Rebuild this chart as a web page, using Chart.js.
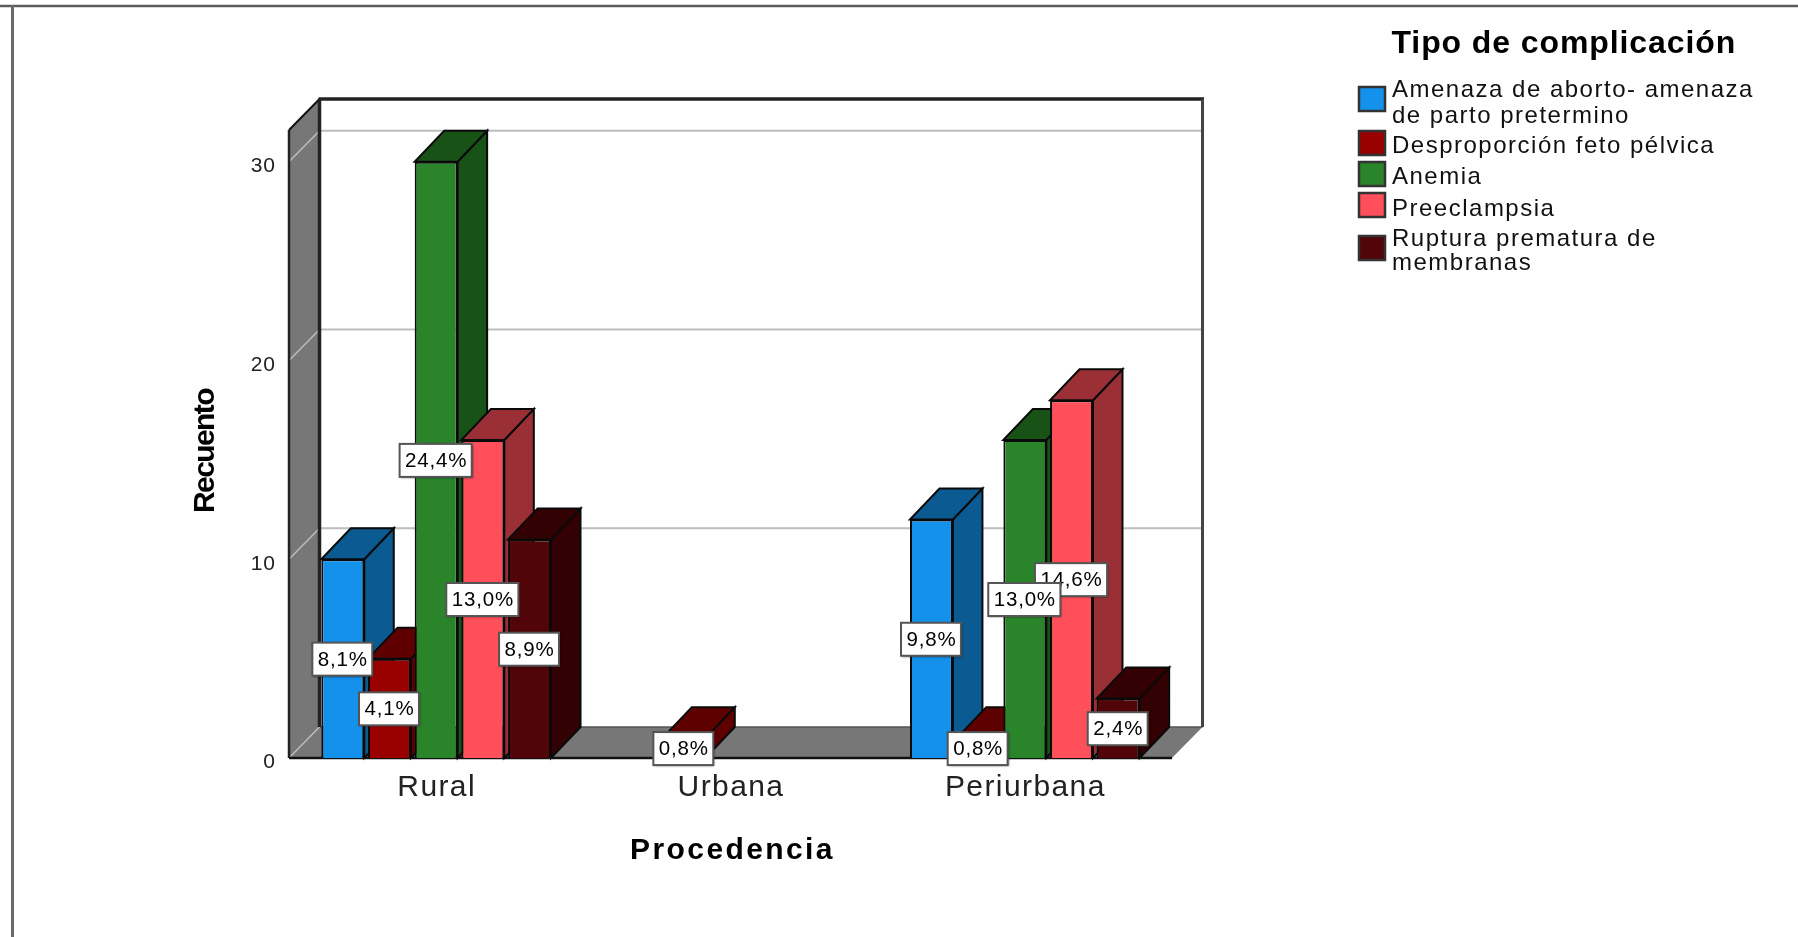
<!DOCTYPE html>
<html>
<head>
<meta charset="utf-8">
<title>Procedencia</title>
<script src="https://cdn.jsdelivr.net/npm/chart.js@4/dist/chart.umd.min.js"></script>
<style>
html,body{margin:0;padding:0;background:#fff;overflow:hidden}
#wrap{position:relative;width:1798px;height:937px}
canvas{display:block;filter:blur(0.6px)}
</style>
</head>
<body>
<div id="wrap"><canvas id="c" width="1798" height="937"></canvas></div>
<script>
const categories = ['Rural', 'Urbana', 'Periurbana'];
const seriesNames = ['Amenaza de aborto- amenaza de parto pretermino', 'Desproporción feto pélvica', 'Anemia', 'Preeclampsia', 'Ruptura prematura de membranas'];
const amenaza = [10, null, 12];
const desproporcion = [5, 1, 1];
const anemia = [30, null, 16];
const preeclampsia = [16, null, 18];
const ruptura = [11, null, 3];
const amenazaPct = ['8,1%', null, '9,8%'];
const desproporcionPct = ['4,1%', '0,8%', '0,8%'];
const anemiaPct = ['24,4%', null, '13,0%'];
const preeclampsiaPct = ['13,0%', null, '14,6%'];
const rupturaPct = ['8,9%', null, '2,4%'];
const yTicks = [0, 10, 20, 30];
const yMax = 31.6;
const frontColors = ['#1491EB', '#990000', '#2A852A', '#FF4F5A', '#520508'];
const sideColors = ['#0B5A92', '#5E0000', '#195217', '#9A3035', '#330003'];
const legendLines = [['Amenaza de aborto- amenaza', 'de parto pretermino'], ['Desproporción feto pélvica'], ['Anemia'], ['Preeclampsia'], ['Ruptura prematura de', 'membranas']];
const legendBoxY = [87, 131, 162, 193, 236];
const legendBaselines = [[97, 123], [153], [184], [216], [246, 270]];

const allValues = [amenaza, desproporcion, anemia, preeclampsia, ruptura];
const allPct = [amenazaPct, desproporcionPct, anemiaPct, preeclampsiaPct, rupturaPct];
const FF = '"Liberation Sans", Arial, sans-serif';
const DX = 30.5, DY = 31, BAR_DX = 29.5;

function poly(ctx, pts, fill, stroke, lw) {
  ctx.beginPath();
  pts.forEach((p, i) => i ? ctx.lineTo(p[0], p[1]) : ctx.moveTo(p[0], p[1]));
  ctx.closePath();
  if (fill) { ctx.fillStyle = fill; ctx.fill(); }
  if (stroke) { ctx.strokeStyle = stroke; ctx.lineWidth = lw || 1; ctx.stroke(); }
}
function seg(ctx, x1, y1, x2, y2, c, lw) {
  ctx.beginPath(); ctx.moveTo(x1, y1); ctx.lineTo(x2, y2);
  ctx.strokeStyle = c; ctx.lineWidth = lw; ctx.stroke();
}

const patchScales = {
  id: 'patchScales',
  afterLayout(chart) {
    if (chart.$patched) return;
    chart.$patched = true;
    const ctx = chart.ctx;
    const wrap = (scale, method, spacing, dx, dy) => {
      const orig = scale[method];
      scale[method] = function (...a) {
        ctx.save();
        ctx.letterSpacing = spacing;
        ctx.translate(dx, dy);
        orig.apply(this, a);
        ctx.restore();
      };
    };
    wrap(chart.scales.x, 'drawLabels', '1.4px', 0.5, 0);
    wrap(chart.scales.x, 'drawTitle', '2.4px', 2, 2);
    wrap(chart.scales.y, 'drawLabels', '1px', 0, 0);
    wrap(chart.scales.y, 'drawTitle', '-1.6px', 0, 7);
  }
};

const stage3d = {
  id: 'stage3d',
  beforeDraw(chart) {
    const ctx = chart.ctx;
    ctx.save();
    seg(ctx, 0, 6, 1798, 6, '#5c5c5c', 2.5);
    seg(ctx, 12.5, 5, 12.5, 937, '#6a6a6a', 3);
    ctx.restore();
  },
  beforeDatasetsDraw(chart) {
    const ctx = chart.ctx;
    const { left, right, top, bottom } = chart.chartArea;
    const y = chart.scales.y;
    ctx.save();
    yTicks.forEach(v => {
      const p = y.getPixelForValue(v);
      if (v > 0) seg(ctx, left + DX, p - DY, right + DX, p - DY, '#bdbdbd', 2);
    });
    poly(ctx, [[left, bottom], [left + DX, bottom - DY], [right + DX, bottom - DY], [right, bottom]], '#777777');
    seg(ctx, left + DX, bottom - DY, right + DX, bottom - DY, '#555', 1.5);
    poly(ctx, [[left, top], [left + DX, top - DY], [left + DX, bottom - DY], [left, bottom]], '#777777');
    yTicks.forEach(v => {
      const p = y.getPixelForValue(v);
      seg(ctx, left, p, left + DX, p - DY, '#bdbdbd', 1.5);
    });
    seg(ctx, left, bottom, left, top, '#222', 2.5);
    seg(ctx, left, top, left + DX, top - DY, '#111', 2);
    seg(ctx, left + DX, bottom - DY, left + DX, top - DY, '#222', 3.5);
    seg(ctx, left + DX - 1, top - DY, right + DX + 1.5, top - DY, '#222', 3.5);
    seg(ctx, right + DX, top - DY, right + DX, bottom - DY, '#444', 3);
    seg(ctx, left, bottom, right, bottom, '#111', 2.5);
    allValues.forEach((vals, ds) => {
      chart.getDatasetMeta(ds).data.forEach((bar, j) => {
        if (vals[j] == null) return;
        const l = bar.x - bar.width / 2, r = bar.x + bar.width / 2, t = bar.y, b = bar.base;
        const c = sideColors[ds];
        poly(ctx, [[r, t], [r + BAR_DX, t - DY], [r + BAR_DX, b - DY], [r, b]], c, '#0a0a0a', 2);
        poly(ctx, [[l, t], [l + BAR_DX, t - DY], [r + BAR_DX, t - DY], [r, t]], c, '#0a0a0a', 2);
      });
    });
    ctx.restore();
  },
  afterDatasetsDraw(chart) {
    const ctx = chart.ctx;
    ctx.save();
    ctx.font = '20.5px ' + FF;
    ctx.letterSpacing = '0.8px';
    ctx.textAlign = 'center';
    ctx.textBaseline = 'middle';
    for (let ds = allPct.length - 1; ds >= 0; ds--) {
      chart.getDatasetMeta(ds).data.forEach((bar, j) => {
        const txt = allPct[ds][j];
        if (txt == null) return;
        const cx = bar.x - 0.5, cy = (bar.y + bar.base) / 2 + 0.5;
        const w = ctx.measureText(txt).width + 10, h = 33;
        ctx.save();
        ctx.shadowColor = 'rgba(0,0,0,0.5)';
        ctx.shadowBlur = 2;
        ctx.shadowOffsetX = 1;
        ctx.shadowOffsetY = 1;
        ctx.fillStyle = '#fff';
        ctx.fillRect(cx - w / 2, cy - h / 2, w, h);
        ctx.restore();
        ctx.strokeStyle = '#555';
        ctx.lineWidth = 2;
        ctx.strokeRect(cx - w / 2, cy - h / 2, w, h);
        ctx.fillStyle = '#000';
        ctx.fillText(txt, cx + 0.5, cy + 1);
      });
    }
    ctx.restore();
  },
  afterDraw(chart) {
    const ctx = chart.ctx;
    ctx.save();
    ctx.textAlign = 'left';
    ctx.textBaseline = 'alphabetic';
    ctx.fillStyle = '#000';
    ctx.font = 'bold 32px ' + FF;
    ctx.letterSpacing = '0.9px';
    ctx.fillText('Tipo de complicación', 1391.5, 53);
    ctx.font = '24px ' + FF;
    ctx.letterSpacing = '1.5px';
    legendLines.forEach((lines, i) => {
      ctx.fillStyle = frontColors[i];
      ctx.fillRect(1359, legendBoxY[i], 26, 24);
      ctx.strokeStyle = '#333';
      ctx.lineWidth = 2.5;
      ctx.strokeRect(1359, legendBoxY[i], 26, 24);
      ctx.fillStyle = '#111';
      lines.forEach((t, k) => ctx.fillText(t, 1392, legendBaselines[i][k]));
    });
    ctx.restore();
  }
};

new Chart(document.getElementById('c'), {
  type: 'bar',
  data: {
    labels: categories,
    datasets: allValues.map((vals, i) => ({
      label: seriesNames[i],
      data: vals,
      backgroundColor: frontColors[i],
      borderColor: '#0a0a0a',
      borderWidth: 2,
      categoryPercentage: 0.793,
      barPercentage: 0.92
    }))
  },
  plugins: [patchScales, stage3d],
  options: {
    responsive: false,
    animation: false,
    layout: { padding: { top: 130, right: 626, bottom: 0, left: 0 } },
    plugins: { legend: { display: false }, tooltip: { enabled: false }, title: { display: false } },
    scales: {
      x: {
        grid: { display: false, drawTicks: false },
        border: { display: false },
        ticks: { color: '#222', font: { family: FF, size: 30 }, padding: 12, autoSkip: false, maxRotation: 0, minRotation: 0 },
        title: { display: true, text: 'Procedencia', color: '#000', font: { family: FF, size: 30, weight: 'bold' }, padding: { top: 70, bottom: 70 } },
        afterFit(s) { s.height = 937 - 758; }
      },
      y: {
        min: 0,
        max: yMax,
        grid: { display: false, drawTicks: false },
        border: { display: false },
        afterBuildTicks(s) { s.ticks = yTicks.map(value => ({ value })); },
        ticks: { color: '#222', font: { family: FF, size: 21 }, padding: 13, labelOffset: 4.5 },
        title: { display: true, text: 'Recuento', color: '#000', font: { family: FF, size: 30, weight: 'bold' }, padding: { top: 188, bottom: 188 } },
        afterFit(s) { s.width = 289; }
      }
    }
  }
});
</script>
</body>
</html>
